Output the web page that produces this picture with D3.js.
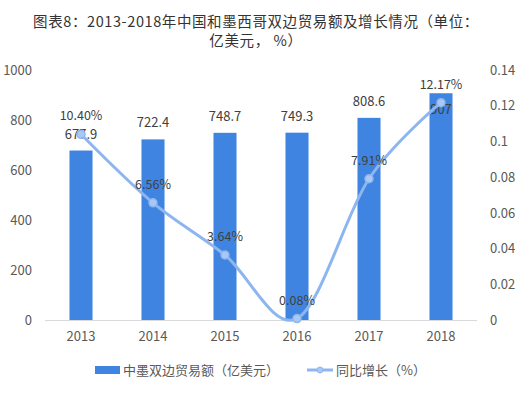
<!DOCTYPE html>
<html>
<head>
<meta charset="utf-8">
<script src="https://cdn.jsdelivr.net/npm/d3@7"></script>
<style>
  body { margin: 0; background: #fff; }
  svg text { font-family: "Noto Sans CJK SC", "Noto Sans", sans-serif; font-weight: 400; }
</style>
</head>
<body>
<div id="chart"></div>
<script>
var years = ["2013", "2014", "2015", "2016", "2017", "2018"];
var tradeValues = [677.9, 722.4, 748.7, 749.3, 808.6, 907];
var growthRates = [0.104, 0.0656, 0.0364, 0.0008, 0.0791, 0.1217];
var growthLabels = ["10.40%", "6.56%", "3.64%", "0.08%", "7.91%", "12.17%"];
var leftTicks = [0, 200, 400, 600, 800, 1000];
var rightTicks = [0, 0.02, 0.04, 0.06, 0.08, 0.1, 0.12, 0.14];
var titleLines = ["图表8：2013-2018年中国和墨西哥双边贸易额及增长情况（单位：", "亿美元， %）"];
var legendNames = ["中墨双边贸易额（亿美元）", "同比增长（%）"];

var width = 521, height = 395;
var margin = { top: 70, right: 44, bottom: 75, left: 45 };
var barColor = "#3f84e0", lineColor = "#8db6f0";

var svg = d3.select("#chart").append("svg")
  .attr("width", width)
  .attr("height", height);

// title
svg.append("g").selectAll("text").data(titleLines).enter().append("text")
  .attr("x", 256)
  .attr("y", function (d, i) { return 27 + i * 19; })
  .attr("text-anchor", "middle")
  .attr("fill", "#333")
  .attr("font-size", 14.5)
  .attr("letter-spacing", 0.6)
  .text(function (d) { return d; });

var x = d3.scaleBand().domain(years)
  .range([margin.left, width - margin.right])
  .paddingInner(0.68).paddingOuter(0.34);
var y = d3.scaleLinear().domain([0, 1000]).range([height - margin.bottom, margin.top]);
var y2 = d3.scaleLinear().domain([0, 0.14]).range([height - margin.bottom, margin.top]);

// left axis
var leftAxis = svg.append("g")
  .attr("transform", "translate(" + margin.left + ",0)")
  .call(d3.axisLeft(y).tickValues(leftTicks).tickSize(0).tickPadding(13)
    .tickFormat(function (d) { return String(d); }));
leftAxis.select(".domain").remove();
leftAxis.selectAll("text").attr("font-size", 13).attr("fill", "#595959");

// right axis
var rightAxis = svg.append("g")
  .attr("transform", "translate(" + (width - margin.right) + ",0)")
  .call(d3.axisRight(y2).tickValues(rightTicks).tickSize(0).tickPadding(13)
    .tickFormat(function (d) { return String(+d.toFixed(2)); }));
rightAxis.select(".domain").remove();
rightAxis.selectAll("text").attr("font-size", 13).attr("fill", "#595959");

// bars
var bars = svg.append("g").selectAll("g").data(years).enter().append("g");
bars.append("rect")
  .attr("x", function (d) { return x(d); })
  .attr("width", x.bandwidth())
  .attr("y", function (d, i) { return y(tradeValues[i]); })
  .attr("height", function (d, i) { return y(0) - y(tradeValues[i]); })
  .attr("fill", barColor);

// baseline
svg.append("line")
  .attr("x1", margin.left).attr("x2", width - margin.right)
  .attr("y1", y(0) + 0.5).attr("y2", y(0) + 0.5)
  .attr("stroke", "#d9d9d9").attr("stroke-width", 1);

// bottom axis labels
var bottomAxis = svg.append("g")
  .attr("transform", "translate(0," + y(0) + ")")
  .call(d3.axisBottom(x).tickSize(0).tickPadding(12));
bottomAxis.select(".domain").remove();
bottomAxis.selectAll("text").attr("font-size", 13).attr("fill", "#595959");

// growth line
var pts = years.map(function (d, i) {
  return [x(d) + x.bandwidth() / 2, y2(growthRates[i])];
});
svg.append("path")
  .attr("d", d3.line().curve(d3.curveCardinal.tension(0))(pts))
  .attr("fill", "none")
  .attr("stroke", lineColor)
  .attr("stroke-width", 3);
svg.append("g").selectAll("circle").data(pts).enter().append("circle")
  .attr("cx", function (d) { return d[0]; })
  .attr("cy", function (d) { return d[1]; })
  .attr("r", 4)
  .attr("fill", "#a9c8f4")
  .attr("stroke", lineColor)
  .attr("stroke-width", 1.5);

// bar labels, pushed under the line point when they would hit the % label
bars.append("text")
  .attr("x", function (d) { return x(d) + x.bandwidth() / 2; })
  .attr("y", function (d, i) {
    var ly = y(tradeValues[i]) - 12;
    var py = pts[i][1] - 14;
    if (Math.abs(ly - py) < 14) ly = pts[i][1] + 11;
    return ly;
  })
  .attr("text-anchor", "middle")
  .attr("font-size", 13)
  .attr("fill", "#404040")
  .text(function (d, i) { return String(tradeValues[i]); });

// line labels
svg.append("g").selectAll("text").data(pts).enter().append("text")
  .attr("x", function (d) { return d[0]; })
  .attr("y", function (d) { return d[1] - 14; })
  .attr("text-anchor", "middle")
  .attr("font-size", 12.5)
  .attr("fill", "#404040")
  .text(function (d, i) { return growthLabels[i]; });

// legend
var legend = svg.append("g").attr("transform", "translate(0,370)");
legend.append("rect")
  .attr("x", 95).attr("y", -4).attr("width", 25).attr("height", 8)
  .attr("fill", barColor);
legend.append("text")
  .attr("x", 123).attr("y", 5)
  .attr("font-size", 13).attr("fill", "#595959")
  .text(legendNames[0]);
legend.append("line")
  .attr("x1", 307).attr("x2", 333).attr("y1", 0).attr("y2", 0)
  .attr("stroke", lineColor).attr("stroke-width", 3);
legend.append("circle")
  .attr("cx", 320).attr("cy", 0).attr("r", 3)
  .attr("fill", "#a9c8f4").attr("stroke", lineColor);
legend.append("text")
  .attr("x", 336).attr("y", 5)
  .attr("font-size", 13).attr("fill", "#595959")
  .text(legendNames[1]);
</script>
</body>
</html>
